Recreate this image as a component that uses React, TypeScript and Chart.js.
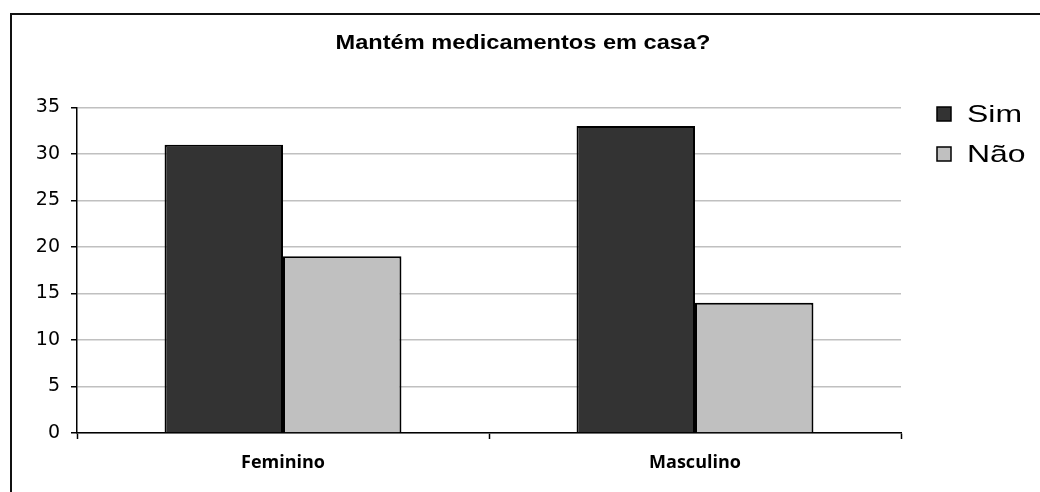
import React, { useEffect, useRef } from "react";
import { Chart, registerables } from "chart.js";

Chart.register(...registerables);

const categories = ["Feminino", "Masculino"];
const seriesNames = ["Sim", "Não"];
const simValues = [31, 33];
const naoValues = [19, 14];
const seriesColors = ["#333333", "#c0c0c0"];
const yTicks = [0, 5, 10, 15, 20, 25, 30, 35];
const titleText = "Mantém medicamentos em casa?";

const framePlugin = {
  id: "frame",
  beforeDraw(chart: any) {
    const ctx = chart.ctx;
    ctx.save();
    ctx.fillStyle = "#ffffff";
    ctx.fillRect(0, 0, chart.width, chart.height);
    ctx.fillStyle = "#111111";
    ctx.fillRect(10, 13, chart.width - 10, 2);
    ctx.fillRect(10, 13, 2, chart.height - 13);
    ctx.restore();
  },
};

const titlePlugin = {
  id: "customTitle",
  afterDraw(chart: any) {
    const ctx = chart.ctx;
    ctx.save();
    ctx.fillStyle = "#000";
    ctx.font = "bold 19.5px 'Liberation Sans', Arial, sans-serif";
    ctx.textAlign = "center";
    ctx.textBaseline = "middle";
    const sx = 1.21;
    ctx.scale(sx, 1);
    ctx.fillText(titleText, 523 / sx, 44);
    ctx.restore();
  },
};

const legendPlugin = {
  id: "customLegend",
  afterDraw(chart: any) {
    const ctx = chart.ctx;
    ctx.save();
    const x0 = chart.chartArea.right + 36;
    const y0 = 114;
    const step = 40;
    chart.data.datasets.forEach((ds: any, i: number) => {
      const cy = y0 + i * step;
      ctx.fillStyle = ds.backgroundColor;
      ctx.fillRect(x0, cy - 7, 14, 14);
      ctx.strokeStyle = "#000";
      ctx.lineWidth = 1.5;
      ctx.strokeRect(x0, cy - 7, 14, 14);
      ctx.save();
      ctx.fillStyle = "#000";
      ctx.font = "24px 'Liberation Sans', Arial, sans-serif";
      ctx.textAlign = "left";
      ctx.textBaseline = "middle";
      const sx = 1.33;
      ctx.scale(sx, 1);
      ctx.fillText(ds.label, (x0 + 30) / sx, cy + 1);
      ctx.restore();
    });
    ctx.restore();
  },
};

export default function App() {
  const canvasRef = useRef<HTMLCanvasElement | null>(null);

  useEffect(() => {
    if (!canvasRef.current) return;
    const chart = new Chart(canvasRef.current, {
      type: "bar",
      data: {
        labels: categories,
        datasets: [
          {
            label: seriesNames[0],
            data: simValues,
            backgroundColor: seriesColors[0],
            borderColor: "#000",
            borderWidth: 2,
            categoryPercentage: 0.575,
            barPercentage: 1,
          },
          {
            label: seriesNames[1],
            data: naoValues,
            backgroundColor: seriesColors[1],
            borderColor: "#000",
            borderWidth: 2,
            categoryPercentage: 0.575,
            barPercentage: 1,
          },
        ],
      },
      options: {
        animation: false,
        responsive: false,
        maintainAspectRatio: false,
        layout: { padding: { top: 107.5, left: 0, right: 139, bottom: 0 } },
        plugins: {
          legend: { display: false },
          title: { display: false },
          tooltip: { enabled: false },
        },
        scales: {
          x: {
            offset: true,
            grid: {
              display: true,
              offset: true,
              drawOnChartArea: false,
              drawTicks: true,
              tickLength: 6,
              tickColor: "#000",
              tickWidth: 1.5,
            },
            border: { display: true, color: "#000", width: 1.5 },
            ticks: {
              color: "#000",
              padding: 13,
              font: { family: "'Open Sans', sans-serif", size: 18, weight: "bold" },
            },
            afterFit: (scale: any) => {
              scale.height = 59;
            },
          },
          y: {
            min: 0,
            max: 35,
            afterBuildTicks: (scale: any) => {
              scale.ticks = yTicks.map((v) => ({ value: v }));
            },
            grid: {
              color: "#c0c0c0",
              lineWidth: 1.5,
              drawTicks: true,
              tickLength: 6,
              tickColor: "#000",
              tickWidth: 1.5,
            },
            border: { display: true, color: "#000", width: 1.5 },
            ticks: {
              color: "#000",
              padding: 11,
              font: { family: "'DejaVu Sans', sans-serif", size: 19 },
            },
            afterFit: (scale: any) => {
              scale.width = 77;
            },
          },
        },
      },
      plugins: [framePlugin, titlePlugin, legendPlugin],
    });
    return () => chart.destroy();
  }, []);

  return (
    <div style={{ position: "fixed", left: 0, top: 0, width: 1040, height: 492, overflow: "hidden", background: "#fff" }}>
      <canvas ref={canvasRef} width={1040} height={492} style={{ display: "block", width: 1040, height: 492 }} />
    </div>
  );
}
